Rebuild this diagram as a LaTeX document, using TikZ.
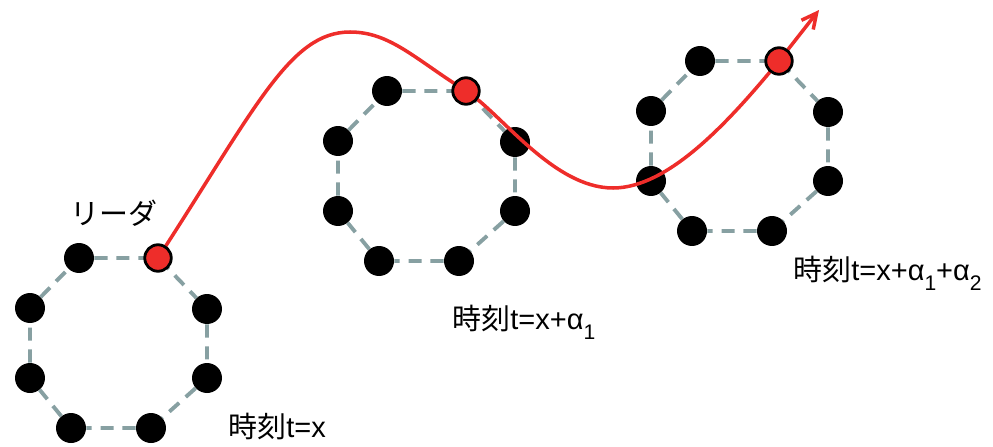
\documentclass[tikz,border=0pt]{standalone}
\usepackage{fontspec}
\setmainfont{Liberation Sans}
\newfontfamily\cjk{Noto Sans CJK JP}
\usetikzlibrary{arrows.meta}
\definecolor{ringgray}{RGB}{135,160,162}
\definecolor{leadred}{RGB}{238,45,42}
\newcommand{\lowidx}[1]{\raisebox{-6pt}{\fontsize{12}{12}\selectfont #1}}

\begin{document}
\begin{tikzpicture}[x=0.02cm, y=-0.02cm,
    dot/.style={circle, fill=black, inner sep=0pt, minimum size=0.6cm},
    leader/.style={circle, fill=leadred, draw=black, line width=1.6pt, inner sep=0pt, minimum size=0.53cm},
    ring/.style={ringgray, line width=2.2pt, dash pattern=on 7.5pt off 5pt},
    trail/.style={leadred, line width=2pt},
    lbl/.style={anchor=base west, inner sep=0pt, font=\fontsize{16.5}{20}\selectfont}]
    \useasboundingbox (0,0) rectangle (993,446);

    % --- Formations (black members, leader position) ---
    \foreach \g/\gx/\gy in {1/158/258, 2/466/91, 3/779/61} {
      \coordinate (g\g b) at (\gx,\gy);
      \foreach \d/\dx/\dy in {a/-79/0, c/49/51, d/49/120, e/-7/170, f/-87/170, g/-128/120, h/-128/50}
        \node[dot] (g\g\d) at (\gx+\dx,\gy+\dy) {};
      \draw[ring] (g\g a) -- (g\g b) -- (g\g c) -- (g\g d) -- (g\g e) -- (g\g f) -- (g\g g) -- (g\g h) -- (g\g a);
    }

    % --- Leader trajectory ---
    \coordinate (top) at (350,32);
    \coordinate (low) at (613,188);
    \coordinate (tip) at (819,10);
    \draw[trail, -{Straight Barb[length=3mm, width=3mm]}] (g1b)
      .. controls (256,107) and (290,32) .. (top)
      .. controls (390,32) and (415,59) .. (g2b)
      .. controls (500,112) and (553,188) .. (low)
      .. controls (668,188) and (728,123) .. (g3b) -- (tip);

    % --- Leaders ---
    \foreach \g in {1,2,3}
      \node[leader] (lead\g) at (g\g b) {};

    % Labels
    \node[lbl] (name) at (70,224) {\cjk リーダ};
    \node[lbl] (time1) at (228,437) {{\cjk 時刻}t=x};
    \node[lbl] (time2) at (452,329) {{\cjk 時刻}t=x+α\lowidx{1}};
    \node[lbl] (time3) at (793,280) {{\cjk 時刻}t=x+α\lowidx{1}+α\lowidx{2}};
\end{tikzpicture}
\end{document}
